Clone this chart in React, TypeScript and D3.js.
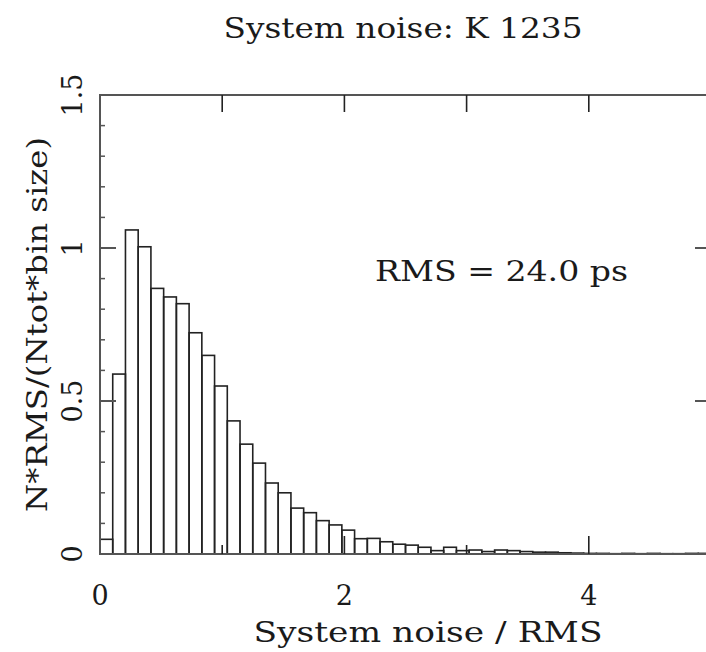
import React from "react";
import * as d3 from "d3";

const title = "System noise: K 1235";
const xLabel = "System noise / RMS";
const yLabel = "N*RMS/(Ntot*bin size)";
const annotation = "RMS = 24.0 ps";

const binWidth = 5 / 48;
const binValues = [
  0.048, 0.588, 1.059, 1.004, 0.868, 0.84, 0.818, 0.723, 0.649, 0.549,
  0.435, 0.359, 0.297, 0.232, 0.2, 0.15, 0.135, 0.109, 0.095, 0.078,
  0.05, 0.051, 0.04, 0.032, 0.029, 0.022, 0.011, 0.022, 0.011, 0.013,
  0.008, 0.013, 0.011, 0.008, 0.006, 0.006, 0.004, 0.003, 0.002, 0.002,
  0.001, 0.002, 0.001, 0.002, 0.001, 0.001, 0.002, 0.002,
];

const xTickLabels = [0, 2, 4];
const xTicksMajor = [2, 4];
const xTicksMinor = [1, 3];
const xTicksTop = [1, 2, 3, 4];
const yTickLabels = [0, 0.5, 1, 1.5];
const yTickLabelText = ["0", "0.5", "1", "1.5"];
const yMinorTicks = d3.range(1, 15).map((i) => i / 10);

const FONT = "'DejaVu Serif', serif";

export default function App() {
  const W = 706;
  const H = 652;
  const left = 100;
  const right = 711;
  const top = 95;
  const bottom = 554;

  const x = d3.scaleLinear().domain([0, 5]).range([left, right]);
  const y = d3.scaleLinear().domain([0, 1.5]).range([bottom, top]);

  const axisColor = "#555";
  const barColor = "#222";
  const textColor = "#1a1a1a";

  return (
    <svg
      width={W}
      height={H}
      style={{ position: "absolute", left: 0, top: 0, background: "#fff" }}
    >
      <rect x={0} y={0} width={W} height={H} fill="#fff" />
      {/* bars */}
      {binValues.map((v, i) => (
        <rect
          key={i}
          x={x(i * binWidth)}
          y={y(v)}
          width={x((i + 1) * binWidth) - x(i * binWidth)}
          height={y(0) - y(v)}
          fill="none"
          stroke={barColor}
          strokeWidth={1.6}
        />
      ))}
      {/* frame */}
      <rect
        x={left}
        y={top}
        width={right - left}
        height={bottom - top}
        fill="none"
        stroke={axisColor}
        strokeWidth={2}
      />
      {/* y ticks */}
      {yTickLabels.map((t) => (
        <g key={"ym" + t}>
          <line x1={left} x2={left + 16} y1={y(t)} y2={y(t)} stroke={axisColor} strokeWidth={2} />
          <line x1={right} x2={right - 16} y1={y(t)} y2={y(t)} stroke={axisColor} strokeWidth={2} />
        </g>
      ))}
      {yMinorTicks.map((t) => (
        <g key={"yn" + t}>
          <line x1={left} x2={left + 5} y1={y(t)} y2={y(t)} stroke={axisColor} strokeWidth={1.5} />
          <line x1={right} x2={right - 5} y1={y(t)} y2={y(t)} stroke={axisColor} strokeWidth={1.5} />
        </g>
      ))}
      {/* x ticks */}
      {xTicksMajor.map((t) => (
        <line key={"xm" + t} x1={x(t)} x2={x(t)} y1={bottom} y2={bottom - 18} stroke={barColor} strokeWidth={1.6} />
      ))}
      {xTicksMinor.map((t) => (
        <line key={"xn" + t} x1={x(t)} x2={x(t)} y1={bottom} y2={bottom - 9} stroke={barColor} strokeWidth={1.6} />
      ))}
      {xTicksTop.map((t) => (
        <line key={"xt" + t} x1={x(t)} x2={x(t)} y1={top} y2={top + 17} stroke={barColor} strokeWidth={1.6} />
      ))}
      {/* x tick labels */}
      {xTickLabels.map((t) => (
        <text
          key={"xl" + t}
          x={x(t)}
          y={605}
          textAnchor="middle"
          fontFamily={FONT}
          fontSize={27}
          fill={textColor}
        >
          {t}
        </text>
      ))}
      {/* y tick labels (rotated) */}
      {yTickLabels.map((t, i) => (
        <text
          key={"yl" + t}
          transform={`translate(82, ${y(t)}) rotate(-90)`}
          textAnchor="middle"
          fontFamily={FONT}
          fontSize={27}
          fill={textColor}
        >
          {yTickLabelText[i]}
        </text>
      ))}
      {/* title */}
      <text
        x={403}
        y={38}
        textAnchor="middle"
        fontFamily={FONT}
        fontSize={28}
        fill={textColor}
        textLength={359}
        lengthAdjust="spacingAndGlyphs"
      >
        {title}
      </text>
      {/* x label */}
      <text
        x={428}
        y={642}
        textAnchor="middle"
        fontFamily={FONT}
        fontSize={28}
        fill={textColor}
        textLength={349}
        lengthAdjust="spacingAndGlyphs"
      >
        {xLabel}
      </text>
      {/* y label */}
      <text
        transform={`translate(47, ${(top + bottom) / 2}) rotate(-90)`}
        textAnchor="middle"
        fontFamily={FONT}
        fontSize={28}
        fill={textColor}
        textLength={375}
        lengthAdjust="spacingAndGlyphs"
      >
        {yLabel}
      </text>
      {/* annotation */}
      <text
        x={375}
        y={281}
        textAnchor="start"
        fontFamily={FONT}
        fontSize={28}
        fill={textColor}
        textLength={253}
        lengthAdjust="spacingAndGlyphs"
      >
        {annotation}
      </text>
    </svg>
  );
}
